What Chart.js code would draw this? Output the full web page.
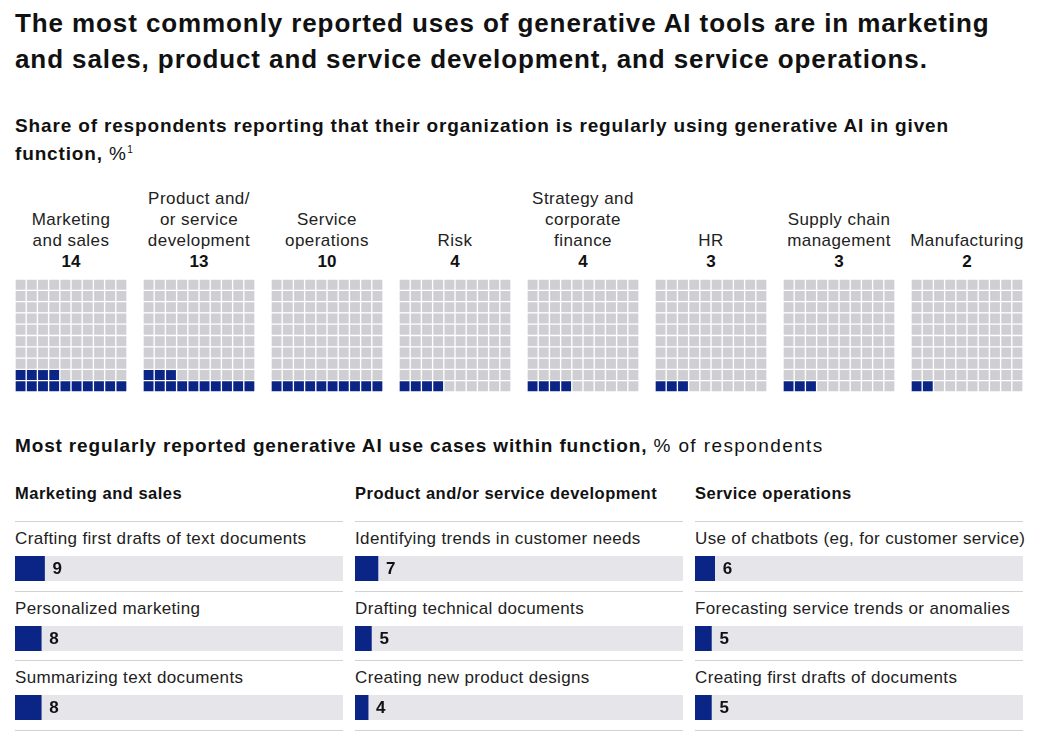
<!DOCTYPE html>
<html>
<head>
<meta charset="utf-8">
<script src="https://cdn.jsdelivr.net/npm/chart.js@4.4.1/dist/chart.umd.min.js"></script>
<style>
  body { margin: 0; background: #fff; font-family: "Liberation Sans", Arial, sans-serif; color: #111; }
  #page { position: relative; width: 1041px; height: 747px; overflow: hidden; }
  .abs { position: absolute; white-space: nowrap; }
  h1 { position: absolute; left: 15px; top: 5px; margin: 0; font-size: 26px; line-height: 36px; font-weight: bold; letter-spacing: 0.9px; }
  .sub { position: absolute; left: 15px; margin: 0; font-size: 19px; line-height: 24px; font-weight: bold; letter-spacing: 0.85px; white-space: nowrap; }
  .sub span { font-weight: normal; letter-spacing: 1.4px; }
  .wlabel { position: absolute; width: 140px; text-align: center; font-size: 17px; line-height: 21px; color: #222; letter-spacing: 0.45px; }
  .wlabel b { font-size: 17px; color: #111; letter-spacing: 0; }
  .colhead { position: absolute; font-size: 16.5px; font-weight: bold; letter-spacing: 0.5px; white-space: nowrap; }
  .rule { position: absolute; height: 0; border-top: 1.5px solid #d2d2d2; width: 328px; }
  .rlabel { position: absolute; font-size: 17px; color: #222; line-height: 20px; letter-spacing: 0.35px; white-space: nowrap; }
</style>
</head>
<body>
<div id="page">
  <h1>The most commonly reported uses of generative AI tools are in marketing<br>and sales, product and service development, and service operations.</h1>
  <div class="sub" style="top:114px">Share of respondents reporting that their organization is regularly using generative AI in given<br>function, <span>%<sup style="font-size:10px">1</sup></span></div>
  <div class="sub" style="top:434px">Most regularly reported generative AI use cases within function, <span>% of respondents</span></div>
</div>
<script>
// waffle data: share of respondents by function
const functions = [
  ["Marketing", "and sales"],
  ["Product and/", "or service", "development"],
  ["Service", "operations"],
  ["Risk"],
  ["Strategy and", "corporate", "finance"],
  ["HR"],
  ["Supply chain", "management"],
  ["Manufacturing"]
];
const functionShare = [14, 13, 10, 4, 4, 3, 3, 2];

// use cases within function
const useCaseGroups = ["Marketing and sales", "Product and/or service development", "Service operations"];
const useCaseLabels = [
  ["Crafting first drafts of text documents", "Personalized marketing", "Summarizing text documents"],
  ["Identifying trends in customer needs", "Drafting technical documents", "Creating new product designs"],
  ["Use of chatbots (eg, for customer service)", "Forecasting service trends or anomalies", "Creating first drafts of documents"]
];
const useCaseValues = [
  [9, 8, 8],
  [7, 5, 4],
  [6, 5, 5]
];

const NAVY = "#0a2585";
const GRAY = "#cfced3";
const TRACK = "#e6e5ea";
const page = document.getElementById("page");

function addEl(tag, cls, css, html) {
  const el = document.createElement(tag);
  el.className = cls;
  Object.assign(el.style, css);
  el.innerHTML = html;
  page.appendChild(el);
  return el;
}

function addCanvas(left, top, w, h) {
  const box = addEl("div", "abs", { left: left + "px", top: top + "px", width: w + "px", height: h + "px" }, "");
  const c = document.createElement("canvas");
  box.appendChild(c);
  return c;
}

// waffles
functions.forEach((lines, i) => {
  const left = 15 + i * 128;
  const top = 279;
  const labelTop = 261 - 10 - lines.length * 21;
  addEl("div", "wlabel", { left: (left + 56 - 70) + "px", top: labelTop + "px" },
    lines.join("<br>") + "<br><b>" + functionShare[i] + "</b>");

  const cols = [0, 1, 2, 3, 4, 5, 6, 7, 8, 9];
  const datasets = cols.map(r => ({
    data: cols.map(() => 1),
    backgroundColor: cols.map(c => (r * 10 + c < functionShare[i] ? NAVY : GRAY)),
    borderColor: "#fff",
    borderWidth: 1,
    borderSkipped: false,
    barPercentage: 1,
    categoryPercentage: 1
  }));

  new Chart(addCanvas(left, top, 112, 113), {
    type: "bar",
    data: { labels: cols, datasets },
    options: {
      responsive: true,
      maintainAspectRatio: false,
      animation: false,
      layout: { padding: 0 },
      plugins: { legend: { display: false }, tooltip: { enabled: false } },
      scales: {
        x: { stacked: true, display: false },
        y: { stacked: true, display: false, min: 0, max: 10 }
      }
    }
  });
});

// value label next to the bar end
const valueLabel = {
  id: "valueLabel",
  afterDatasetsDraw(chart) {
    const ctx = chart.ctx;
    const v = chart.data.datasets[0].data[0];
    const x = chart.scales.x.getPixelForValue(v) + 8;
    const y = (chart.chartArea.top + chart.chartArea.bottom) / 2 + 1;
    ctx.save();
    ctx.font = "bold 17px 'Liberation Sans', Arial, sans-serif";
    ctx.fillStyle = "#111";
    ctx.textBaseline = "middle";
    ctx.fillText(v, x, y);
    ctx.restore();
  }
};

// use case bars
useCaseGroups.forEach((g, j) => {
  const left = 15 + j * 340;
  addEl("div", "colhead", { left: left + "px", top: "484px" }, g);
  for (let k = 0; k < 3; k++) {
    const ruleTop = 521 + k * 69.5;
    addEl("div", "rule", { left: left + "px", top: ruleTop + "px" }, "");
    addEl("div", "rlabel", { left: left + "px", top: (ruleTop + 8) + "px" }, useCaseLabels[j][k]);
    new Chart(addCanvas(left, ruleTop + 35, 328, 25), {
      type: "bar",
      data: {
        labels: [useCaseLabels[j][k]],
        datasets: [
          { data: [useCaseValues[j][k]], backgroundColor: NAVY, grouped: false, order: 0, barPercentage: 1, categoryPercentage: 1 },
          { data: [100], backgroundColor: TRACK, grouped: false, order: 1, barPercentage: 1, categoryPercentage: 1 }
        ]
      },
      options: {
        indexAxis: "y",
        responsive: true,
        maintainAspectRatio: false,
        animation: false,
        layout: { padding: 0 },
        plugins: { legend: { display: false }, tooltip: { enabled: false } },
        scales: {
          x: { display: false, min: 0, max: 100 },
          y: { display: false }
        }
      },
      plugins: [valueLabel]
    });
  }
  addEl("div", "rule", { left: left + "px", top: (521 + 3 * 69.5) + "px" }, "");
});
</script>
</body>
</html>
